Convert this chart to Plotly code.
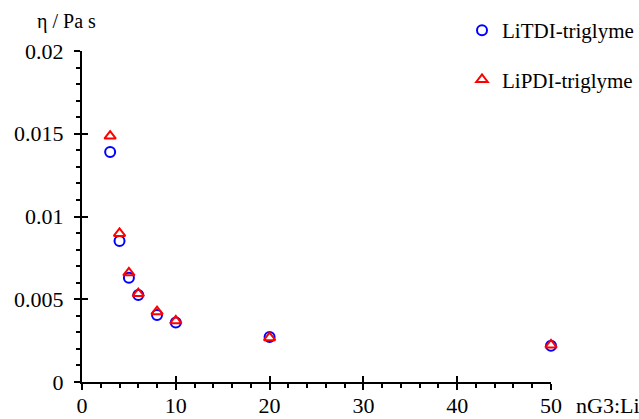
import plotly.graph_objects as go

x_vals = [3, 4, 5, 6, 8, 10, 20, 50]
litdi = [0.0139, 0.00852, 0.0063, 0.00526, 0.00405, 0.0036, 0.00272, 0.00219]
lipdi = [0.01486, 0.00898, 0.0066, 0.00534, 0.00425, 0.0037, 0.00268, 0.00224]

FONT = "Liberation Serif"
fig = go.Figure()
fig.add_trace(go.Scatter(x=x_vals, y=litdi, mode="markers", name="LiTDI-triglyme",
                         legendgroup="a", cliponaxis=False,
                         marker=dict(symbol="circle-open", size=10, color="#0000ff", line=dict(width=2))))
fig.add_trace(go.Scatter(x=x_vals, y=lipdi, mode="markers", name="LiPDI-triglyme",
                         legendgroup="b", cliponaxis=False,
                         marker=dict(symbol="triangle-up-open", size=10, color="#ff0000", line=dict(width=2))))

axis_common = dict(showgrid=False, zeroline=False, showline=True, linecolor="black", linewidth=2,
                   ticks="outside", ticklen=6, tickwidth=2, tickcolor="black", automargin=False,
                   tickfont=dict(family=FONT, size=22, color="black"))
fig.update_layout(
    width=639, height=419,
    font=dict(family=FONT, size=22, color="black"),
    margin=dict(l=82, r=88, t=51, b=37, autoexpand=False),
    paper_bgcolor="white", plot_bgcolor="white",
    xaxis=dict(range=[0, 50], dtick=10, tick0=0, ticklabelstandoff=-3,
               minor=dict(ticks="outside", ticklen=4, tickwidth=2, tickcolor="black", dtick=2),
               **axis_common),
    yaxis=dict(range=[0, 0.02], dtick=0.005, tick0=0, ticklabelstandoff=6,
               minor=dict(ticks="outside", ticklen=4, tickwidth=2, tickcolor="black", dtick=0.001),
               **axis_common),
    xaxis2=dict(range=[0, 50], dtick=10, overlaying="x", anchor="y", side="bottom", showgrid=False,
                zeroline=False, showline=False, ticks="inside", ticklen=6, tickwidth=2,
                tickcolor="black", showticklabels=False, automargin=False),
    yaxis2=dict(range=[0, 0.02], dtick=0.005, overlaying="y", anchor="x", side="left", showgrid=False,
                zeroline=False, showline=False, ticks="inside", ticklen=6, tickwidth=2,
                tickcolor="black", showticklabels=False, automargin=False),
    legend=dict(x=0.723, y=0.976, xanchor="left", yanchor="top", xref="container", yref="container",
                font=dict(family=FONT, size=21, color="black"), tracegroupgap=19,
                bgcolor="rgba(0,0,0,0)"),
    showlegend=True,
)
fig.add_trace(go.Scatter(x=[None], y=[None], xaxis="x2", yaxis="y2", showlegend=False, hoverinfo="skip"))
fig.add_annotation(text="η / Pa s", x=-0.032, y=1.088, xref="paper", yref="paper",
                   xanchor="center", yanchor="middle",
                   showarrow=False, font=dict(family=FONT, size=20, color="black"))
fig.add_annotation(text="nG3:Li", x=1.049, y=-0.072, xref="paper", yref="paper", xanchor="left",
                   yanchor="middle", showarrow=False, font=dict(family=FONT, size=22, color="black"))
fig.write_html("out.html", post_script="document.body.style.margin='0';",
               config={"displayModeBar": False})
